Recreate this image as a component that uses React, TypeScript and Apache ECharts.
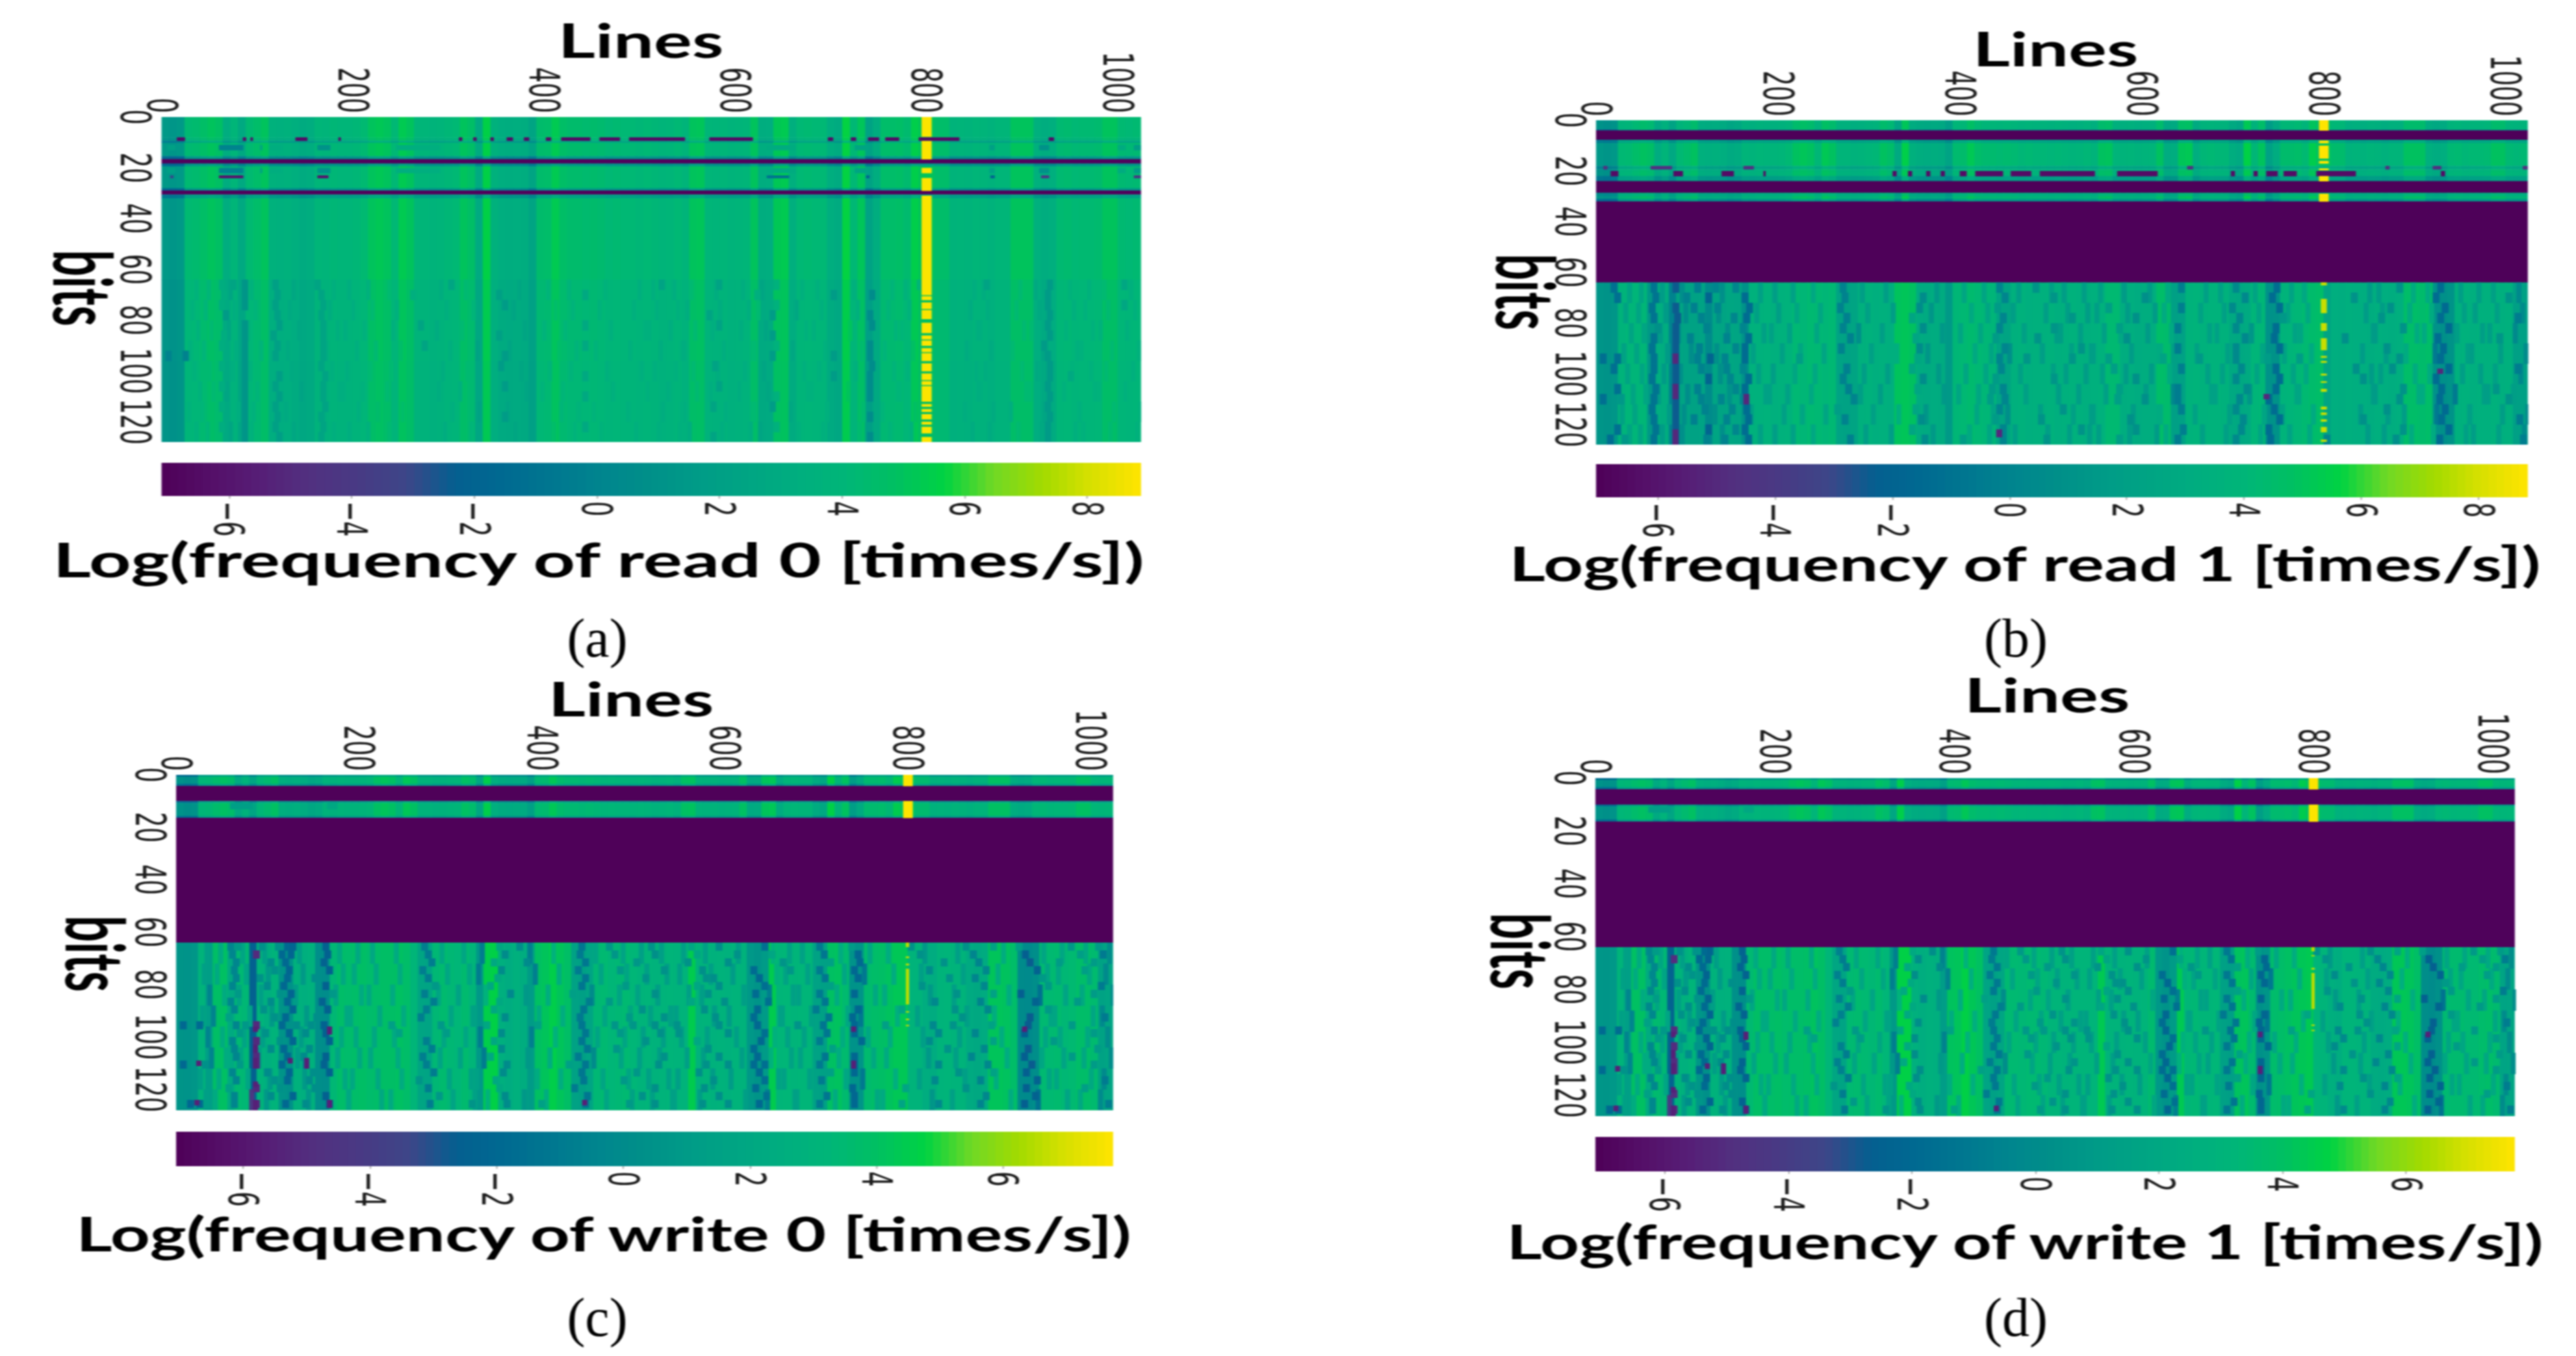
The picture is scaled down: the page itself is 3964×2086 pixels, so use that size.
import React, { useEffect, useRef } from "react";
import * as echarts from "echarts";

// The reference is a picture stretched sideways, so the whole chart is drawn narrow and widened.
const STRETCH = 1.72;
const PAGE_W = 3964;
const PAGE_H = 2086;

const lineTicks = [0, 200, 400, 600, 800, 1000];
const bitTicks = [0, 20, 40, 60, 80, 100, 120];
const readBarTicks = [-6, -4, -2, 0, 2, 4, 6, 8];
const writeBarTicks = [-6, -4, -2, 0, 2, 4, 6];

const paletteStops = [
  "#4e0058", "#550f68", "#561e76", "#523080", "#483a84", "#3d4688", "#045f90",
  "#006a91", "#007790", "#00858e", "#009089", "#009c87", "#00a583", "#00ae7f",
  "#00b677", "#00c061", "#00d243", "#70d925", "#a3da00", "#d8e000", "#ffe400",
];

// Log frequency per 8-line column, upper rows
const topProfile = [
  1.5, 1.3, 1.5, 4.3, 4.4, 4.7, 5, 4.8, 3.2, 4, 2.8, 4.3, 4.6, 5, 3.6, 3.5, 3.6, 3.4, 3, 3.2,
  4, 3.9, 4.1, 4, 4, 4.1, 4.3, 5, 5.2, 5, 4.2, 5.3, 5, 4, 4, 3.8, 3.9, 4.1, 4.2, 5,
  4.7, 2.9, 5.6, 3.6, 3.3, 3.2, 3.3, 3.2, 2.4, 4.5, 4.6, 5.3, 4.7, 4.5, 4.5, 4.4, 4.5, 4.4, 4.2, 4.3,
  4.2, 4.2, 4.1, 4.2, 4.1, 3.9, 4, 4.2, 3.9, 5, 5.1, 4, 3.9, 4, 3.8, 3.9, 4, 5, 3.2, 3.3,
  5.2, 5.3, 3.4, 4.2, 4.3, 4.2, 4.2, 3.3, 3, 5.7, 4.2, 5.1, 2.2, 3.2, 4.6, 4.6, 4.7, 4.4, 5.5, 5,
  5, 4.6, 4.6, 3.8, 3.9, 3.8, 4, 3.9, 3.7, 4, 4, 5, 5, 5, 3.5, 3.2, 3.4, 4.3, 4.4, 4.2,
  4.3, 4.3, 4.4, 5, 5, 4.3, 4.2, 4.3,
];

const read1Low = [
  1.2, 1.1, 1.3, 3.8, 4, 4, 4.1, 1.5, 3.3, 3.2, 0, 2.4, 2.3, 2.2, 2.3, 0.5, 2.5, 2.4, 2.6, 2.5,
  1, 3.6, 3.6, 3.7, 3.5, 3.6, 3.7, 4.2, 4.1, 4.3, 4.2, 4.1, 4.2, 2.3, 2.2, 2.4, 3.5, 3.6, 3.4, 3.5,
  3.4, 5, 5.1, 4.9, 3, 2.9, 3.1, 3, 1.5, 4.1, 4.2, 4.4, 4.2, 4.1, 4, 2.5, 2.4, 3.5, 3.6, 3.4,
  3.5, 3.5, 3.6, 3.4, 3.5, 3.6, 3.5, 3.4, 3.5, 3.6, 4.3, 4.3, 3.2, 3.3, 3.1, 3.2, 3.2, 4.6, 4.5, 2,
  2.1, 3.7, 3.8, 3.6, 3.7, 3.7, 3.6, 2.8, 2.7, 2.9, 4, 4.1, 1, 1.1, 3.8, 3.9, 4.1, 4.3, 4.5, 4.6,
  2.4, 3.3, 3.2, 3.4, 3.3, 3.3, 3.2, 3.4, 3.3, 3.2, 3.4, 4.6, 4.6, 4.5, 4.6, 1, 0.9, 1.1, 3.5, 3.6,
  3.4, 3.5, 3.5, 3.6, 3.4, 3.5, 2, 2.1,
];

const write0Low = [
  0.6, 0.5, 0.7, 3, 1.2, 3.9, 4, 2.2, 3.5, 3.4, -2.5, 3, 2.6, 3, 0.6, 0.4, 2.8, 2.6, 2.8, 0.2,
  0.1, 3.4, 3.8, 3.7, 3.8, 3.9, 3.7, 3.8, 3.9, 3.9, 4, 3.8, 3.2, 1.8, 1.7, 3.4, 3.6, 3.4, 3.3, 3.6,
  3.2, 0.8, 4.6, 4.7, 2.6, 2.4, 2.7, 2.5, 1, 4, 4.2, 4.6, 4.2, 3.9, 1.6, 1.4, 1.7, 3.4, 3.5, 3.3,
  3.4, 3.5, 3.3, 3, 3.1, 2.9, 3, 3.1, 3, 3, 4.5, 2.9, 3, 2.8, 2.9, 2.8, 3, 2.9, 0.8, 0.6,
  1, 4.5, 3.2, 3.3, 3.1, 3.2, 3.2, 1.6, 1.4, 4, 4.1, 3.6, 0.5, 0.6, 3.6, 3.8, 3.9, 4.1, 4.3, 4.3,
  3, 3, 2.5, 2.4, 3, 3.1, 3, 3, 2.2, 2.1, 2.3, 4.2, 4.2, 4.1, 3.8, 0, -0.1, 0.2, 3.5, 3.5,
  3.6, 3.4, 3.5, 3.8, 3.8, 3.6, 1.6, 1.8,
];

const write1Low = [
  0.7, 0.6, 0.8, 3.1, 1.3, 4, 4, 2.3, 3.6, 3.4, -2.4, 3, 2.7, 3.1, 0.7, 0.3, 2.9, 2.7, 2.8, 0.3,
  0.2, 3.5, 3.9, 3.8, 3.8, 3.9, 3.7, 3.8, 3.8, 3.9, 4.1, 3.9, 3.2, 1.9, 1.7, 3.5, 3.6, 3.5, 3.4, 3.6,
  3.3, 0.9, 4.7, 4.7, 2.7, 2.5, 2.7, 2.6, 1.1, 4.1, 4.2, 4.7, 4.3, 4, 1.7, 1.5, 1.8, 3.5, 3.5, 3.4,
  3.5, 3.5, 3.4, 3.1, 3.1, 3, 3.1, 3.1, 3.1, 3.1, 4.4, 3, 3, 2.9, 3, 2.9, 3.1, 3.6, 0.8, 0.5,
  1, 4.4, 3.3, 3.4, 3.2, 3.2, 3.3, 1.5, 1.3, 4.1, 4.2, 3.6, 0.4, 0.6, 3.7, 3.8, 4, 4.2, 4.3, 4.4,
  3.1, 3.1, 2.6, 2.5, 3.1, 3.1, 3, 3, 2.3, 2.2, 2.4, 4.3, 4.3, 4.2, 3.9, 0.1, 0, 0.3, 3.5, 3.6,
  3.6, 3.5, 3.5, 3.7, 3.8, 3.6, 1.7, 1.8,
];

// [bit start, bit end, which column list (0 upper, 1 lower, -1 solid floor), offset]
const read0Bands = [
  [0, 8, 0, 0], [8, 9.3, 0, -0.3], [9.3, 10.2, 0, -1.8], [10.2, 15.4, 0, 0], [15.4, 16.6, 0, -3],
  [16.6, 18.3, -1, 0], [18.3, 19.4, 0, -3], [19.4, 28, 0, 0], [28, 28.9, 0, -3], [28.9, 30.5, -1, 0],
  [30.5, 32, 0, -2.2], [32, 64, 0, 0], [64, 96, 0, -0.25], [96, 128, 0, -0.35],
];
const read1Bands = [
  [0, 3.6, 0, -0.5], [3.6, 4, 0, -2.5], [4, 7.7, -1, 0], [7.7, 9, 0, -1.9], [9, 18, 0, -0.1],
  [18, 19.3, 0, -1.6], [19.3, 20, 0, -0.6], [20, 22, 0, -0.4], [22, 24, 0, -2.2], [24, 28.6, -1, 0],
  [28.6, 30, 0, -1], [30, 31, 0, -0.2], [31, 32, 0, -2.6], [32, 64, -1, 0], [64, 128, 1, 0],
];
const writeBands = [
  [0, 0.7, 0, -3.3], [0.7, 3.4, 0, -1], [3.4, 4.2, 0, -3], [4.2, 10, -1, 0], [10, 10.7, 0, -3],
  [10.7, 15.6, 0, -1], [15.6, 16.4, 0, -3], [16.4, 64, -1, 0], [64, 128, 1, 0],
];

// Bright column at line 800: [bit start, bit end]
const read0Hot = [
  [0, 7.7], [9.4, 16.6], [20, 22], [24, 29], [31, 70], [70.5, 72], [73, 75.5], [76, 79.5], [81, 85],
  [86, 87.5], [88, 90], [91, 92.5], [93, 96], [97, 100], [101, 103.5], [104, 105.5], [106, 112],
  [113, 114], [115, 116], [117, 119], [120, 121], [122, 124.5], [126, 128],
];
const read1Hot = [[0, 4], [8, 9], [10, 15], [16, 17], [19, 19.6], [22, 24], [29, 32]];
const read1HotSpots = [
  [64, 65], [70.5, 76], [80, 83], [86, 90.6], [93, 93.6], [95, 95.6], [100, 100.6], [103, 103.5],
  [106, 107], [113, 114], [115.3, 116.2], [118, 118.8], [121, 123], [126, 126.8],
];
const writeHot = [[0, 4.2], [10, 16.4]];
const write0Thin = [[64, 65.6], [69.3, 69.8], [72, 72.6], [74, 87.5], [90.2, 90.6], [93, 93.5], [95.4, 95.8]];
const write1Thin = [[64, 65.5], [67, 67.4], [71.8, 72.4], [73.8, 87.3], [93.3, 93.7], [95.3, 95.7]];

// Dark segments: [line start, line end]
const read0Row8 = [
  [16, 24], [85, 88], [93, 95], [140, 152], [185, 187], [311, 314], [326, 329], [344, 347], [361, 367],
  [379, 384], [402, 407], [418, 448], [458, 479], [489, 547], [573, 618], [697, 702], [721, 726],
  [739, 750], [757, 771], [792, 834], [928, 933],
];
const read1Row21 = [
  [16, 24], [85, 95], [138, 151], [184, 186], [326, 330], [343, 347], [363, 367], [379, 383], [400, 407],
  [417, 447], [456, 478], [488, 548], [573, 617], [698, 702], [723, 727], [737, 749], [756, 770],
  [792, 835], [929, 933],
];
const read1Row18 = [[8, 12], [60, 83], [162, 173], [650, 656], [868, 872], [920, 929], [1019, 1024]];
// Faded patches: [line start, line end, value]
const read0Patches = [
  [6, 14, 2], [60, 85, 0], [103, 105, 2.4], [113, 126, 3.2], [163, 176, 1], [245, 291, 3.3], [633, 663, 3],
  [725, 739, 2.4], [866, 871, 2], [918, 928, 1], [1000, 1008, 3], [1017, 1024, 1.8],
];
const read0Row23 = [[9, 12, -3], [60, 85, -6], [163, 174, -6], [633, 656, -1], [737, 740, -2], [867, 871, -2], [920, 928, -4], [1017, 1024, -4]];
const write0Patches = [[59, 83, 1.2], [165, 176, 2]];

// Dark grain in the lower half: [bit start, bit end, lines]
const read0Grain = [
  [64, 68, [60, 72, 84, 116, 160, 300, 520, 580, 640, 790, 860, 926, 1004]],
  [68, 72, [62, 84, 118, 164, 260, 350, 440, 620, 700, 740, 924]],
  [72, 76, [60, 84, 116, 166, 356, 640, 924, 1004]],
  [76, 80, [64, 118, 164, 570, 636, 738, 926]],
  [80, 84, [84, 120, 166, 268, 440, 580, 740, 924]],
  [84, 88, [62, 84, 114, 166, 350, 636, 926]],
  [88, 92, [60, 84, 118, 166, 272, 440, 640, 738, 920]],
  [92, 96, [4, 22, 84, 116, 166, 356, 636, 700, 738, 924]],
  [96, 100, [60, 84, 164, 352, 576, 740, 926]],
  [100, 104, [84, 120, 168, 440, 700, 738, 926, 948]],
  [104, 108, [60, 84, 116, 166, 356, 580, 738, 924]],
  [108, 112, [84, 120, 166, 440, 640, 738, 926]],
  [112, 116, [60, 84, 116, 168, 574, 636, 924]],
  [116, 120, [84, 118, 164, 356, 738, 926]],
  [120, 124, [60, 84, 116, 166, 440, 640, 924]],
  [124, 128, [84, 120, 164, 574, 738, 924]],
];
const read1Grain = [
  [64, 68, [16, 60, 84, 108, 128, 150, 268, 440, 480, 640, 700, 745, 880, 925]],
  [68, 72, [20, 62, 96, 120, 160, 270, 356, 446, 500, 600, 710, 740, 830, 920, 1000]],
  [72, 76, [58, 84, 104, 130, 165, 265, 352, 438, 560, 640, 696, 748, 870, 930]],
  [76, 80, [60, 86, 112, 148, 162, 272, 344, 444, 520, 590, 704, 752, 860, 925, 1010]],
  [80, 84, [64, 84, 118, 158, 268, 356, 440, 500, 572, 636, 700, 744, 884, 934]],
  [84, 88, [60, 84, 100, 140, 164, 276, 348, 436, 482, 580, 710, 742, 820, 922, 990]],
  [88, 92, [58, 84, 110, 150, 160, 266, 352, 446, 530, 636, 700, 748, 866, 928]],
  [92, 96, [4, 20, 60, 84, 108, 122, 138, 160, 220, 350, 440, 470, 520, 560, 620, 660, 700, 735, 770, 880, 925]],
  [96, 100, [16, 60, 84, 112, 140, 158, 272, 344, 442, 566, 640, 706, 744, 832, 872, 934, 1010]],
  [100, 104, [58, 84, 120, 144, 164, 268, 356, 436, 500, 590, 700, 748, 840, 920]],
  [104, 108, [20, 62, 84, 108, 150, 160, 274, 350, 432, 444, 572, 636, 712, 744, 884, 926, 986]],
  [108, 112, [4, 24, 60, 84, 112, 134, 158, 280, 430, 446, 570, 600, 636, 704, 736, 880, 924, 1000]],
  [112, 116, [58, 84, 116, 146, 162, 262, 348, 440, 510, 640, 700, 742, 866, 930]],
  [116, 120, [60, 84, 104, 140, 164, 270, 354, 436, 486, 584, 708, 748, 840, 926, 1012]],
  [120, 124, [20, 62, 84, 120, 150, 160, 344, 444, 530, 590, 642, 706, 736, 884, 934]],
  [124, 128, [12, 28, 60, 84, 118, 138, 164, 276, 358, 400, 444, 492, 572, 636, 700, 738, 800, 876, 924, 1016]],
];
const writeGrain = [
  [64, 67, [56, 64, 90, 108, 118, 124, 160, 268, 350, 372, 440, 470, 516, 560, 590, 640, 700, 735, 800, 860, 890, 918, 975, 1005]],
  [67, 70, [58, 84, 112, 122, 162, 272, 356, 438, 476, 520, 566, 610, 648, 705, 742, 810, 868, 925, 985, 1010]],
  [70, 73, [62, 100, 116, 158, 276, 344, 380, 444, 500, 556, 600, 660, 712, 744, 836, 874, 930, 962, 1000]],
  [73, 76, [60, 104, 120, 164, 266, 352, 436, 482, 530, 572, 628, 668, 700, 738, 820, 882, 938, 990]],
  [76, 79, [62, 88, 118, 148, 272, 348, 444, 510, 576, 584, 634, 706, 742, 842, 870, 944]],
  [79, 82, [58, 96, 114, 160, 280, 340, 440, 488, 566, 590, 640, 712, 812, 880, 950, 1008]],
  [82, 85, [64, 110, 122, 168, 268, 362, 430, 520, 578, 630, 700, 738, 850, 890, 920, 1000]],
  [85, 88, [56, 100, 118, 156, 278, 350, 448, 470, 560, 596, 644, 706, 826, 876, 936, 982]],
  [88, 91, [60, 92, 124, 162, 270, 344, 442, 506, 574, 632, 696, 742, 790, 848, 884, 950]],
  [91, 94, [54, 104, 116, 150, 264, 356, 438, 492, 530, 586, 628, 710, 736, 856, 930, 1012]],
  [94, 97, [4, 22, 62, 72, 84, 112, 128, 144, 158, 232, 286, 336, 392, 440, 476, 496, 520, 544, 590, 632, 676, 704, 738, 772, 824, 846, 888, 928, 976]],
  [97, 100, [66, 94, 120, 138, 160, 240, 292, 352, 444, 482, 526, 546, 600, 640, 708, 738, 830, 870, 924, 1000]],
  [100, 103, [58, 84, 110, 124, 164, 270, 344, 440, 510, 566, 636, 700, 746, 820, 890, 956]],
  [103, 106, [60, 100, 114, 142, 276, 352, 446, 478, 578, 628, 714, 840, 880, 928, 1004]],
  [106, 109, [62, 84, 118, 136, 160, 266, 340, 436, 530, 590, 632, 706, 738, 866, 924, 976]],
  [109, 112, [4, 28, 66, 84, 112, 138, 158, 270, 358, 426, 444, 524, 576, 600, 628, 640, 700, 738, 830, 884, 932, 1000]],
  [112, 115, [58, 96, 120, 146, 164, 278, 354, 440, 500, 568, 634, 712, 738, 852, 890, 926]],
  [115, 118, [62, 104, 118, 142, 262, 346, 442, 486, 584, 640, 702, 826, 876, 938, 1012]],
  [118, 121, [54, 84, 110, 148, 272, 350, 432, 520, 574, 630, 736, 794, 860, 926, 990]],
  [121, 124, [60, 100, 124, 160, 284, 356, 446, 506, 590, 642, 708, 738, 882, 936]],
  [124, 127, [12, 22, 60, 84, 116, 138, 164, 274, 320, 358, 396, 444, 492, 520, 572, 600, 634, 700, 738, 790, 830, 876, 924, 1016]],
];
// Thinner vertical streaks: [bit start, bit end, lines]
const read1Streaks = [
  [64, 72, [34, 47, 70, 92, 136, 178, 194, 214, 236, 290, 316, 372, 402, 424, 462, 498, 512, 534, 552, 578, 606, 626, 668, 684, 722, 762, 776, 848, 858, 896, 912, 948, 968, 984, 1012]],
  [72, 80, [30, 44, 74, 96, 132, 174, 198, 218, 244, 296, 324, 366, 410, 428, 456, 492, 516, 538, 548, 582, 612, 622, 662, 688, 726, 758, 780, 844, 862, 892, 916, 952, 964, 988, 1016]],
  [80, 88, [36, 50, 68, 88, 142, 182, 190, 210, 240, 286, 312, 378, 398, 420, 468, 504, 508, 530, 556, 574, 604, 630, 672, 680, 718, 766, 772, 852, 854, 900, 908, 944, 972, 980, 1008]],
  [88, 96, [28, 42, 76, 102, 130, 170, 202, 222, 248, 300, 328, 362, 414, 432, 452, 488, 520, 542, 544, 586, 616, 618, 658, 692, 730, 754, 784, 840, 866, 888, 920, 956, 960, 992, 1020]],
  [96, 104, [32, 48, 72, 90, 134, 176, 192, 216, 238, 292, 318, 374, 404, 426, 464, 500, 514, 536, 554, 580, 608, 628, 670, 686, 724, 764, 778, 850, 860, 898, 914, 950, 970, 986, 1014]],
  [104, 112, [38, 52, 66, 98, 144, 184, 188, 208, 234, 288, 310, 380, 396, 418, 470, 506, 506, 528, 558, 572, 602, 632, 674, 678, 716, 768, 770, 854, 852, 902, 906, 942, 974, 978, 1006]],
  [112, 120, [26, 40, 78, 94, 128, 168, 204, 224, 250, 302, 330, 360, 416, 434, 450, 486, 522, 544, 542, 588, 618, 616, 656, 694, 732, 752, 786, 838, 868, 886, 922, 958, 958, 994, 1022]],
  [120, 128, [34, 46, 70, 92, 136, 178, 194, 214, 236, 294, 322, 368, 408, 430, 458, 494, 518, 540, 550, 584, 614, 624, 664, 690, 728, 760, 782, 846, 864, 894, 918, 954, 962, 990, 1018]],
];
const writeStreaks = [
  [64, 72, [31, 46, 70, 94, 132, 176, 196, 212, 238, 288, 312, 332, 384, 410, 456, 486, 506, 528, 552, 576, 612, 650, 668, 682, 724, 756, 776, 816, 852, 902, 946, 966, 992, 1018]],
  [72, 80, [28, 42, 74, 98, 136, 180, 192, 216, 242, 294, 318, 328, 390, 416, 462, 490, 512, 534, 548, 582, 606, 654, 664, 688, 728, 750, 782, 812, 858, 896, 950, 962, 996, 1014]],
  [80, 88, [34, 50, 66, 90, 128, 172, 200, 208, 234, 284, 306, 336, 380, 404, 452, 482, 502, 524, 558, 572, 618, 646, 672, 678, 720, 762, 772, 822, 848, 908, 942, 970, 988, 1022]],
  [88, 96, [26, 38, 78, 102, 140, 184, 188, 220, 246, 298, 322, 324, 394, 420, 466, 494, 516, 538, 544, 586, 602, 658, 660, 692, 732, 746, 786, 808, 862, 892, 954, 958, 1000, 1010]],
  [96, 104, [32, 48, 72, 92, 134, 178, 194, 214, 236, 290, 314, 330, 386, 412, 458, 488, 508, 530, 550, 578, 610, 652, 666, 684, 726, 754, 778, 814, 854, 900, 948, 964, 994, 1016]],
  [104, 112, [36, 52, 68, 88, 130, 174, 198, 210, 240, 286, 308, 334, 382, 406, 454, 484, 504, 526, 556, 574, 616, 648, 670, 680, 722, 760, 774, 820, 850, 906, 944, 968, 990, 1020]],
  [112, 120, [24, 44, 76, 100, 138, 182, 190, 218, 244, 296, 320, 326, 392, 418, 464, 492, 514, 536, 546, 584, 604, 656, 662, 690, 730, 748, 784, 810, 860, 894, 952, 960, 998, 1012]],
  [120, 128, [30, 40, 80, 96, 142, 186, 186, 222, 232, 300, 324, 338, 378, 402, 468, 496, 518, 540, 542, 570, 620, 644, 674, 676, 718, 764, 770, 824, 846, 910, 940, 972, 986, 1008]],
];
// Deepest spots: [line, bit start, bit end]
const read1Deep = [[84, 92, 96], [84, 104, 110], [84, 122, 128], [162, 108, 112], [440, 122, 125], [734, 108, 110], [925, 98, 100]];
const writeDeep = [
  [84, 96, 98], [84, 103, 106], [84, 108, 112], [84, 117, 119], [84, 124, 128], [444, 124, 126], [738, 96, 98],
  [738, 109, 112], [925, 96, 98], [165, 124, 127], [165, 96, 99], [140, 108, 112], [20, 124, 126], [22, 109, 111], [122, 108, 110],
];

type Cell = number[];

function columnBands(bands: number[][], upper: number[], lower: number[], floor: number): Cell[] {
  const cells: Cell[] = [];
  bands.forEach(([b0, b1, source, offset]) => {
    if (source < 0) {
      cells.push([0, 1024, b0, b1, floor]);
      return;
    }
    const list = source === 0 ? upper : lower;
    list.forEach((v, i) => cells.push([i * 8, (i + 1) * 8, b0, b1, v + offset]));
  });
  return cells;
}

function grainCells(grain: any[], profile: number[], delta: number, width: number): Cell[] {
  const cells: Cell[] = [];
  grain.forEach(([b0, b1, lines]: [number, number, number[]]) => {
    lines.forEach((line) => {
      const base = profile[Math.min(127, Math.floor(line / 8))];
      cells.push([line, line + width, b0, b1, base + delta]);
    });
  });
  return cells;
}

const spans = (list: number[][], b0: number, b1: number, value: number): Cell[] =>
  list.map(([a, c]) => [a, c, b0, b1, value]);
const patches = (list: number[][], b0: number, b1: number): Cell[] =>
  list.map(([a, c, v]) => [a, c, b0, b1, v]);
const hot = (list: number[][], l0: number, l1: number, value: number): Cell[] =>
  list.map(([b0, b1]) => [l0, l1, b0, b1, value]);
const deep = (list: number[][], width: number, value: number): Cell[] =>
  list.map(([l, b0, b1]) => [l, l + width, b0, b1, value]);

const panelCells: Cell[][] = [
  [
    ...columnBands(read0Bands, topProfile, topProfile, -6.9),
    ...grainCells(read1Streaks, topProfile, -0.7, 4),
    ...grainCells(read0Grain, topProfile, -1.6, 6),
    ...spans(read0Row8, 8, 9.3, -6.5),
    ...patches(read0Patches, 11, 13),
    ...patches(read0Patches, 20, 22),
    ...patches(read0Row23, 23, 24),
    ...hot(read0Hot, 795, 805, 8.8),
  ],
  [
    ...columnBands(read1Bands, topProfile, read1Low, -7),
    ...grainCells(read1Streaks, read1Low, -1.6, 5),
    ...grainCells(read1Grain, read1Low, -2.4, 7),
    ...deep(read1Deep, 6, -5),
    ...spans(read1Row21, 20, 22, -6.4),
    ...spans(read1Row18, 18, 19.3, -4.5),
    ...hot(read1Hot, 795, 805, 8.8),
    ...hot(read1HotSpots, 797, 803, 7.8),
  ],
  [
    ...columnBands(writeBands, topProfile, write0Low, -7),
    ...patches(write0Patches, 10.7, 13),
    ...grainCells(writeStreaks, write0Low, -1.7, 5),
    ...grainCells(writeGrain, write0Low, -2.6, 7),
    ...deep(writeDeep, 5, -5.5),
    ...hot(writeHot, 795, 805, 7.7),
    ...hot(write0Thin, 798, 801, 6.6),
  ],
  [
    ...columnBands(writeBands, topProfile, write1Low, -7),
    ...patches(write0Patches, 10.7, 13),
    ...grainCells(writeStreaks, write1Low, -1.7, 5),
    ...grainCells(writeGrain, write1Low, -2.6, 7),
    ...deep(writeDeep, 5, -5.5),
    ...hot(writeHot, 795, 805, 7.7),
    ...hot(write1Thin, 798, 801, 6.6),
  ],
];

const barRanges = [[-7.1, 8.87], [-7.05, 8.83], [-7.06, 7.73], [-7.12, 7.75]];
const barTicks = [readBarTicks, readBarTicks, writeBarTicks, writeBarTicks];
const barTitles = [
  "Log(frequency of read 0 [times/s])",
  "Log(frequency of read 1 [times/s])",
  "Log(frequency of write 0 [times/s])",
  "Log(frequency of write 1 [times/s])",
];
const panelLetters = ["(a)", "(b)", "(c)", "(d)"];

// Page-pixel layout: heat box, colour bar box, text centres
const panelBoxes = [
  { x0: 248.6, x1: 1755, y0: 180, y1: 680, by0: 712, by1: 763, linesX: 986, linesY: 61, bitsX: 130, bitsY: 443, titleX: 921, titleY: 860, letterX: 919, letterY: 981 },
  { x0: 2456, x1: 3889, y0: 185, y1: 684, by0: 714, by1: 765, linesX: 3163, linesY: 74, bitsX: 2350, bitsY: 449, titleX: 3116, titleY: 866, letterX: 3102, letterY: 981 },
  { x0: 271, x1: 1712, y0: 1192, y1: 1708, by0: 1741, by1: 1794, linesX: 971, linesY: 1074, bitsX: 149, bitsY: 1467, titleX: 929, titleY: 1897, letterX: 919, letterY: 2026 },
  { x0: 2455, x1: 3869, y0: 1197, y1: 1717, by0: 1749, by1: 1802, linesX: 3150, linesY: 1068, bitsX: 2342, bitsY: 1463, titleX: 3116, titleY: 1909, letterX: 3102, letterY: 2026 },
];

const TITLE_SCALE = [0.91, 0.86, 0.86, 0.845];

const tickFont = { fontFamily: "DejaVu Sans", fontSize: 37, color: "#1c1c1c" };
const minusFormat = (v: number) => String(v).replace("-", "\u2212");
const plainFormat = (v: number) => String(v);

function renderCell(_: any, api: any) {
  const a = api.coord([api.value(0), api.value(2)]);
  const b = api.coord([api.value(1), api.value(3)]);
  return {
    type: "rect",
    shape: {
      x: Math.min(a[0], b[0]),
      y: Math.min(a[1], b[1]),
      width: Math.abs(b[0] - a[0]) + 0.5,
      height: Math.abs(b[1] - a[1]) + 0.5,
    },
    style: { fill: api.visual("color") },
  };
}

function barCells(range: number[]): Cell[] {
  const cells: Cell[] = [];
  const steps = 120;
  const w = (range[1] - range[0]) / steps;
  for (let i = 0; i < steps; i++) {
    const v = range[0] + i * w;
    cells.push([v, v + w, 0, 1, v + w / 2]);
  }
  return cells;
}

function buildOption() {
  const grid: any[] = [];
  const xAxis: any[] = [];
  const yAxis: any[] = [];
  const heatSeries: any[] = [];
  const barSeries: any[] = [];
  const visualMap: any[] = [];
  const graphic: any[] = [];

  panelBoxes.forEach((p, i) => {
    const left = p.x0 / STRETCH;
    const width = (p.x1 - p.x0) / STRETCH;
    grid.push({ left, width, top: p.y0, height: p.y1 - p.y0 });
    grid.push({ left, width, top: p.by0, height: p.by1 - p.by0 });

    xAxis.push({
      type: "value", gridIndex: i * 2, position: "top", min: 0, max: 1024,
      axisLine: { show: false }, splitLine: { show: false }, axisTick: { show: false },
      axisLabel: { ...tickFont, rotate: -90, margin: 6, customValues: lineTicks, formatter: plainFormat },
    });
    yAxis.push({
      type: "value", gridIndex: i * 2, inverse: true, min: 0, max: 128,
      axisLine: { show: false }, splitLine: { show: false }, axisTick: { show: false },
      axisLabel: { ...tickFont, rotate: -90, margin: 5, customValues: bitTicks, formatter: plainFormat },
    });
    xAxis.push({
      type: "value", gridIndex: i * 2 + 1, position: "bottom", min: barRanges[i][0], max: barRanges[i][1],
      axisLine: { show: false }, splitLine: { show: false },
      axisTick: { show: true, length: 4, lineStyle: { color: "#999", width: 1 }, customValues: barTicks[i] },
      axisLabel: { ...tickFont, rotate: -90, margin: 8, customValues: barTicks[i], formatter: minusFormat },
    });
    yAxis.push({
      type: "value", gridIndex: i * 2 + 1, min: 0, max: 1, show: false,
    });

    heatSeries.push({
      type: "custom", name: panelLetters[i], xAxisIndex: i * 2, yAxisIndex: i * 2, coordinateSystem: "cartesian2d",
      data: panelCells[i], renderItem: renderCell, encode: { x: [0, 1], y: [2, 3] }, clip: true, silent: true, progressive: 0,
    });
    barSeries.push({
      type: "custom", name: barTitles[i], xAxisIndex: i * 2 + 1, yAxisIndex: i * 2 + 1, coordinateSystem: "cartesian2d",
      data: barCells(barRanges[i]), renderItem: renderCell, encode: { x: [0, 1], y: [2, 3] }, clip: true, silent: true, progressive: 0,
    });
    visualMap.push({
      type: "continuous", show: false, seriesIndex: [i, i + 4], dimension: 4,
      min: barRanges[i][0], max: barRanges[i][1], inRange: { color: paletteStops },
    });

    graphic.push({
      type: "text", x: p.linesX / STRETCH, y: p.linesY, scaleX: 0.89,
      style: { text: "Lines", font: "bold 72px Lato", fill: "#000", textAlign: "center", textVerticalAlign: "middle" },
    });
    graphic.push({
      type: "text", x: p.bitsX / STRETCH, y: p.bitsY, rotation: -Math.PI / 2,
      style: { text: "bits", font: "bold 72px Lato", fill: "#000", textAlign: "center", textVerticalAlign: "middle" },
    });
    graphic.push({
      type: "text", x: p.titleX / STRETCH, y: p.titleY, scaleX: TITLE_SCALE[i],
      style: { text: barTitles[i], font: "bold 72px Lato", fill: "#000", textAlign: "center", textVerticalAlign: "middle" },
    });
    graphic.push({
      type: "text", x: p.letterX / STRETCH, y: p.letterY, scaleX: 1 / STRETCH,
      style: { text: panelLetters[i], font: "84px 'Liberation Serif'", fill: "#000", textAlign: "center", textVerticalAlign: "middle" },
    });
  });

  return {
    animation: false,
    backgroundColor: "#fff",
    grid, xAxis, yAxis, visualMap, graphic,
    series: [...heatSeries, ...barSeries],
  };
}

export default function App() {
  const ref = useRef<HTMLDivElement>(null);
  useEffect(() => {
    document.body.style.margin = "0";
    const chart = echarts.init(ref.current!, undefined, { renderer: "svg" });
    chart.setOption(buildOption() as any);
    return () => chart.dispose();
  }, []);
  return (
    <div style={{ position: "absolute", left: 0, top: 0, width: PAGE_W, height: PAGE_H, overflow: "hidden", background: "#fff" }}>
      <div
        ref={ref}
        style={{
          width: PAGE_W / STRETCH,
          height: PAGE_H,
          transform: `scaleX(${STRETCH})`,
          transformOrigin: "0 0",
          filter: "blur(0.8px)",
        }}
      />
    </div>
  );
}
